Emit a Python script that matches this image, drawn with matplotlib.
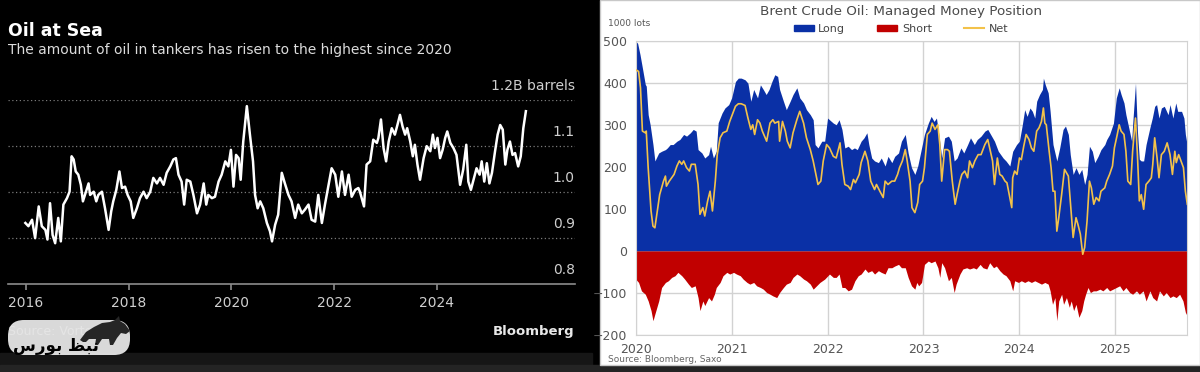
import matplotlib
matplotlib.use('Agg')
import matplotlib.pyplot as plt
from matplotlib.patches import Rectangle, FancyBboxPatch, Polygon, Patch
from matplotlib.lines import Line2D

# ---- left chart: oil in tankers (billion barrels) ----
oil_years = [
    2015.99, 2016.05, 2016.12, 2016.18, 2016.25, 2016.31, 2016.38, 2016.42, 2016.47, 2016.52,
    2016.57, 2016.63, 2016.68, 2016.73, 2016.80, 2016.85, 2016.89, 2016.93, 2016.97, 2017.02,
    2017.07, 2017.11, 2017.15, 2017.22, 2017.25, 2017.32, 2017.37, 2017.41, 2017.48, 2017.54,
    2017.61, 2017.66, 2017.70, 2017.76, 2017.82, 2017.87, 2017.93, 2017.98, 2018.04, 2018.09,
    2018.16, 2018.22, 2018.29, 2018.35, 2018.42, 2018.48, 2018.55, 2018.61, 2018.68, 2018.74,
    2018.81, 2018.87, 2018.92, 2018.97, 2019.03, 2019.08, 2019.13, 2019.20, 2019.26, 2019.33,
    2019.39, 2019.46, 2019.51, 2019.55, 2019.62, 2019.68, 2019.75, 2019.81, 2019.88, 2019.94,
    2019.99, 2020.04, 2020.09, 2020.14, 2020.18, 2020.23, 2020.30, 2020.36, 2020.42, 2020.46,
    2020.51, 2020.56, 2020.62, 2020.69, 2020.75, 2020.79, 2020.85, 2020.91, 2020.98, 2021.04,
    2021.11, 2021.17, 2021.24, 2021.30, 2021.37, 2021.43, 2021.50, 2021.56, 2021.63, 2021.69,
    2021.76, 2021.82, 2021.89, 2021.95, 2022.02, 2022.08, 2022.15, 2022.21, 2022.28, 2022.34,
    2022.41, 2022.47, 2022.50, 2022.58, 2022.63, 2022.70, 2022.76, 2022.83, 2022.86, 2022.91,
    2022.96, 2023.01, 2023.06, 2023.12, 2023.18, 2023.23, 2023.28, 2023.33, 2023.38, 2023.42,
    2023.48, 2023.53, 2023.57, 2023.62, 2023.67, 2023.74, 2023.80, 2023.87, 2023.92, 2023.96,
    2024.01, 2024.06, 2024.11, 2024.16, 2024.20, 2024.26, 2024.32, 2024.38, 2024.45, 2024.51,
    2024.57, 2024.61, 2024.66, 2024.72, 2024.77, 2024.83, 2024.87, 2024.92, 2024.97, 2025.02,
    2025.07, 2025.13, 2025.18, 2025.23, 2025.28, 2025.33, 2025.37, 2025.42, 2025.47, 2025.52,
    2025.58, 2025.63, 2025.68, 2025.73]
oil_barrels = [
    0.932, 0.925, 0.939, 0.899, 0.968, 0.925, 0.917, 0.896, 0.975, 0.906,
    0.888, 0.943, 0.892, 0.972, 0.986, 1.000, 1.077, 1.070, 1.044, 1.037,
    1.015, 0.979, 0.993, 1.018, 0.993, 1.000, 0.979, 0.993, 1.000, 0.964,
    0.917, 0.957, 0.979, 1.004, 1.044, 1.008, 1.011, 0.993, 0.979, 0.943,
    0.964, 0.986, 1.000, 0.986, 1.000, 1.030, 1.018, 1.030, 1.015, 1.041,
    1.055, 1.070, 1.073, 1.037, 1.022, 0.972, 1.026, 1.022, 0.993, 0.953,
    0.972, 1.018, 0.972, 0.993, 0.986, 0.989, 1.022, 1.037, 1.066, 1.055,
    1.091, 1.011, 1.080, 1.073, 1.026, 1.109, 1.186, 1.124, 1.066, 0.993,
    0.964, 0.979, 0.964, 0.932, 0.914, 0.892, 0.928, 0.950, 1.041, 1.018,
    0.993, 0.979, 0.943, 0.972, 0.953, 0.961, 0.972, 0.939, 0.935, 0.993,
    0.932, 0.972, 1.015, 1.051, 1.037, 0.989, 1.044, 0.993, 1.037, 0.989,
    1.004, 1.008, 1.000, 0.968, 1.059, 1.066, 1.113, 1.106, 1.117, 1.157,
    1.095, 1.066, 1.109, 1.138, 1.124, 1.145, 1.167, 1.142, 1.124, 1.138,
    1.109, 1.077, 1.102, 1.059, 1.026, 1.073, 1.099, 1.088, 1.124, 1.095,
    1.117, 1.073, 1.091, 1.117, 1.131, 1.106, 1.095, 1.080, 1.015, 1.048,
    1.102, 1.022, 1.004, 1.030, 1.051, 1.037, 1.066, 1.022, 1.062, 1.018,
    1.041, 1.088, 1.124, 1.145, 1.135, 1.059, 1.091, 1.109, 1.080, 1.084,
    1.055, 1.077, 1.138, 1.175]
oil_ticks = [2016, 2018, 2020, 2022, 2024]
oil_levels = [0.8, 0.9, 1.0, 1.1, 1.2]
oil_level_labels = ['0.8', '0.9', '1.0', '1.1', '1.2B barrels']

# ---- right chart: Brent managed money position (1000 lots) ----
long_years = [
    2020.00, 2020.02, 2020.045, 2020.07, 2020.10, 2020.11, 2020.13, 2020.15, 2020.18, 2020.20,
    2020.24, 2020.27, 2020.31, 2020.33, 2020.36, 2020.39, 2020.43, 2020.46, 2020.50, 2020.53,
    2020.57, 2020.60, 2020.63, 2020.65, 2020.69, 2020.72, 2020.76, 2020.78, 2020.81, 2020.84,
    2020.86, 2020.90, 2020.93, 2020.97, 2021.00, 2021.04, 2021.07, 2021.10, 2021.14, 2021.17,
    2021.20, 2021.23, 2021.27, 2021.30, 2021.33, 2021.36, 2021.39, 2021.42, 2021.45, 2021.48,
    2021.50, 2021.54, 2021.57, 2021.61, 2021.64, 2021.68, 2021.71, 2021.75, 2021.78, 2021.82,
    2021.85, 2021.87, 2021.90, 2021.94, 2021.97, 2022.00, 2022.02, 2022.06, 2022.09, 2022.12,
    2022.15, 2022.18, 2022.215, 2022.25, 2022.28, 2022.31, 2022.35, 2022.38, 2022.41, 2022.43,
    2022.46, 2022.49, 2022.53, 2022.56, 2022.60, 2022.63, 2022.67, 2022.70, 2022.74, 2022.77,
    2022.81, 2022.84, 2022.875, 2022.91, 2022.94, 2022.98, 2023.01, 2023.05, 2023.08, 2023.11,
    2023.135, 2023.16, 2023.19, 2023.22, 2023.26, 2023.29, 2023.32, 2023.35, 2023.39, 2023.42,
    2023.46, 2023.49, 2023.53, 2023.56, 2023.60, 2023.64, 2023.67, 2023.71, 2023.74, 2023.78,
    2023.83, 2023.86, 2023.90, 2023.93, 2023.97, 2024.00, 2024.03, 2024.055, 2024.08, 2024.11,
    2024.135, 2024.16, 2024.18, 2024.21, 2024.24, 2024.25, 2024.27, 2024.30, 2024.32, 2024.35,
    2024.39, 2024.42, 2024.455, 2024.48, 2024.51, 2024.53, 2024.56, 2024.59, 2024.62, 2024.65,
    2024.68, 2024.705, 2024.73, 2024.76, 2024.785, 2024.82, 2024.85, 2024.89, 2024.91, 2024.94,
    2024.98, 2025.01, 2025.04, 2025.06, 2025.09, 2025.11, 2025.14, 2025.17, 2025.18, 2025.21,
    2025.23, 2025.25, 2025.27, 2025.295, 2025.32, 2025.36, 2025.385, 2025.41, 2025.43, 2025.455,
    2025.48, 2025.51, 2025.55, 2025.57, 2025.60, 2025.63, 2025.65, 2025.69, 2025.715, 2025.73,
    2025.75]
long_lots = [
    498, 494, 467, 435, 396, 392, 324, 301, 253, 214,
    233, 237, 241, 245, 253, 253, 261, 265, 277, 273,
    281, 289, 285, 241, 233, 221, 229, 249, 221, 237,
    305, 328, 340, 348, 364, 403, 411, 411, 407, 399,
    356, 384, 364, 395, 384, 372, 384, 403, 419, 415,
    384, 356, 336, 356, 372, 388, 364, 352, 336, 324,
    312, 253, 245, 261, 261, 316, 312, 304, 300, 312,
    289, 245, 249, 241, 245, 241, 261, 269, 281, 253,
    221, 214, 210, 221, 202, 225, 210, 225, 233, 261,
    277, 233, 198, 182, 202, 245, 277, 304, 320, 308,
    316, 277, 221, 269, 273, 261, 214, 221, 245, 233,
    253, 269, 253, 265, 273, 285, 289, 273, 261, 237,
    221, 214, 202, 237, 253, 261, 300, 336, 320, 340,
    332, 316, 356, 372, 384, 411, 395, 376, 332, 253,
    214, 245, 289, 297, 277, 229, 182, 198, 182, 194,
    158, 182, 249, 237, 210, 225, 241, 253, 265, 277,
    304, 364, 388, 372, 352, 324, 293, 261, 300, 399,
    285, 218, 214, 214, 253, 293, 316, 344, 348, 316,
    340, 344, 324, 348, 316, 352, 332, 332, 316, 277,
    250]

net_years = [
    2020.00, 2020.03, 2020.05, 2020.07, 2020.10, 2020.11, 2020.13, 2020.16, 2020.18, 2020.20,
    2020.23, 2020.25, 2020.29, 2020.31, 2020.32, 2020.35, 2020.375, 2020.40, 2020.43, 2020.455,
    2020.48, 2020.50, 2020.53, 2020.56, 2020.58, 2020.62, 2020.65, 2020.67, 2020.70, 2020.72,
    2020.75, 2020.775, 2020.80, 2020.83, 2020.85, 2020.88, 2020.91, 2020.95, 2020.98, 2021.00,
    2021.04, 2021.07, 2021.10, 2021.14, 2021.17, 2021.20, 2021.22, 2021.24, 2021.27, 2021.295,
    2021.32, 2021.365, 2021.40, 2021.43, 2021.45, 2021.49, 2021.50, 2021.53, 2021.56, 2021.58,
    2021.61, 2021.64, 2021.68, 2021.71, 2021.75, 2021.78, 2021.82, 2021.85, 2021.90, 2021.93,
    2021.955, 2021.99, 2022.02, 2022.06, 2022.09, 2022.13, 2022.15, 2022.18, 2022.215, 2022.24,
    2022.27, 2022.29, 2022.33, 2022.35, 2022.39, 2022.42, 2022.45, 2022.49, 2022.51, 2022.545,
    2022.58, 2022.60, 2022.63, 2022.67, 2022.70, 2022.73, 2022.75, 2022.78, 2022.81, 2022.83,
    2022.86, 2022.88, 2022.91, 2022.94, 2022.96, 2022.99, 2023.01, 2023.04, 2023.07, 2023.09,
    2023.12, 2023.15, 2023.17, 2023.19, 2023.22, 2023.25, 2023.27, 2023.30, 2023.33, 2023.35,
    2023.38, 2023.40, 2023.43, 2023.46, 2023.48, 2023.51, 2023.535, 2023.57, 2023.60, 2023.64,
    2023.67, 2023.69, 2023.72, 2023.74, 2023.77, 2023.795, 2023.82, 2023.85, 2023.87, 2023.90,
    2023.92, 2023.93, 2023.95, 2023.975, 2024.00, 2024.02, 2024.045, 2024.07, 2024.10, 2024.125,
    2024.15, 2024.18, 2024.205, 2024.23, 2024.25, 2024.265, 2024.28, 2024.31, 2024.33, 2024.35,
    2024.37, 2024.39, 2024.41, 2024.44, 2024.47, 2024.51, 2024.53, 2024.56, 2024.59, 2024.61,
    2024.635, 2024.66, 2024.68, 2024.705, 2024.73, 2024.75, 2024.775, 2024.80, 2024.83, 2024.85,
    2024.89, 2024.91, 2024.94, 2024.97, 2024.99, 2025.02, 2025.04, 2025.06, 2025.09, 2025.11,
    2025.13, 2025.16, 2025.18, 2025.21, 2025.23, 2025.25, 2025.27, 2025.295, 2025.32, 2025.35,
    2025.375, 2025.39, 2025.41, 2025.435, 2025.455, 2025.48, 2025.51, 2025.54, 2025.57, 2025.595,
    2025.62, 2025.635, 2025.66, 2025.69, 2025.71, 2025.73, 2025.75]
net_lots = [
    431, 427, 388, 285, 281, 285, 198, 95, 59, 55,
    103, 134, 166, 178, 154, 166, 174, 182, 202, 214,
    206, 214, 198, 190, 206, 206, 158, 87, 103, 83,
    119, 142, 95, 166, 229, 269, 281, 285, 308, 320,
    344, 350, 350, 346, 316, 289, 300, 277, 312, 304,
    285, 261, 304, 312, 304, 308, 261, 308, 285, 261,
    245, 281, 312, 332, 304, 269, 241, 214, 158, 166,
    214, 253, 245, 225, 221, 257, 206, 158, 154, 146,
    170, 162, 182, 210, 237, 214, 166, 146, 158, 142,
    127, 166, 158, 166, 166, 182, 198, 214, 241, 214,
    166, 103, 91, 115, 158, 166, 198, 277, 285, 304,
    289, 300, 253, 166, 241, 241, 237, 166, 111, 134,
    166, 182, 190, 174, 214, 198, 214, 229, 229, 253,
    265, 245, 214, 158, 221, 182, 178, 166, 162, 127,
    103, 174, 190, 182, 221, 217, 249, 277, 265, 245,
    237, 285, 293, 308, 340, 304, 300, 237, 198, 142,
    142, 47, 79, 134, 194, 178, 119, 32, 79, 63,
    40, -8, 8, 71, 166, 150, 111, 127, 119, 142,
    150, 166, 182, 202, 245, 277, 300, 285, 277, 237,
    166, 158, 237, 316, 229, 119, 134, 99, 158, 166,
    174, 206, 269, 221, 174, 229, 237, 257, 229, 182,
    237, 210, 229, 210, 198, 142, 111]

short_years = [
    2020.00, 2020.03, 2020.06, 2020.10, 2020.13, 2020.16, 2020.18, 2020.20, 2020.24, 2020.27,
    2020.31, 2020.34, 2020.375, 2020.41, 2020.44, 2020.48, 2020.51, 2020.55, 2020.58, 2020.62,
    2020.65, 2020.67, 2020.70, 2020.72, 2020.76, 2020.79, 2020.82, 2020.84, 2020.88, 2020.91,
    2020.95, 2020.98, 2021.02, 2021.05, 2021.09, 2021.12, 2021.16, 2021.19, 2021.23, 2021.26,
    2021.30, 2021.33, 2021.365, 2021.40, 2021.43, 2021.47, 2021.50, 2021.54, 2021.57, 2021.61,
    2021.64, 2021.68, 2021.71, 2021.75, 2021.78, 2021.82, 2021.85, 2021.92, 2021.97, 2022.02,
    2022.06, 2022.09, 2022.12, 2022.15, 2022.18, 2022.215, 2022.25, 2022.285, 2022.32, 2022.35,
    2022.39, 2022.42, 2022.46, 2022.49, 2022.53, 2022.56, 2022.60, 2022.63, 2022.67, 2022.70,
    2022.74, 2022.77, 2022.81, 2022.84, 2022.875, 2022.91, 2022.93, 2022.95, 2022.98, 2023.01,
    2023.05, 2023.08, 2023.12, 2023.15, 2023.17, 2023.19, 2023.22, 2023.26, 2023.29, 2023.32,
    2023.34, 2023.38, 2023.41, 2023.45, 2023.48, 2023.52, 2023.55, 2023.59, 2023.62, 2023.66,
    2023.69, 2023.73, 2023.76, 2023.795, 2023.83, 2023.86, 2023.90, 2023.93, 2023.95, 2023.99,
    2024.02, 2024.055, 2024.09, 2024.125, 2024.16, 2024.195, 2024.23, 2024.265, 2024.30, 2024.32,
    2024.345, 2024.37, 2024.39, 2024.41, 2024.44, 2024.46, 2024.49, 2024.52, 2024.54, 2024.565,
    2024.59, 2024.62, 2024.65, 2024.67, 2024.69, 2024.715, 2024.74, 2024.77, 2024.80, 2024.84,
    2024.87, 2024.91, 2024.94, 2024.975, 2025.01, 2025.045, 2025.08, 2025.11, 2025.15, 2025.18,
    2025.22, 2025.25, 2025.29, 2025.32, 2025.36, 2025.39, 2025.43, 2025.46, 2025.50, 2025.53,
    2025.57, 2025.60, 2025.635, 2025.67, 2025.705, 2025.73, 2025.75]
short_lots = [
    -67, -75, -95, -103, -119, -142, -166, -150, -119, -87,
    -75, -71, -63, -59, -51, -59, -67, -79, -87, -83,
    -111, -142, -119, -130, -111, -119, -103, -87, -75, -59,
    -51, -55, -51, -55, -59, -67, -75, -79, -75, -83,
    -87, -91, -99, -103, -107, -111, -99, -87, -79, -75,
    -63, -55, -59, -67, -71, -79, -91, -75, -67, -55,
    -63, -63, -55, -87, -87, -95, -91, -71, -59, -55,
    -43, -51, -47, -55, -47, -51, -55, -40, -40, -36,
    -32, -40, -40, -63, -83, -91, -75, -83, -75, -32,
    -24, -28, -24, -40, -63, -28, -40, -71, -63, -99,
    -79, -55, -43, -40, -43, -40, -43, -32, -40, -43,
    -28, -40, -36, -47, -55, -59, -71, -95, -71, -75,
    -71, -75, -71, -75, -71, -75, -79, -75, -79, -95,
    -127, -111, -166, -119, -103, -127, -111, -134, -119, -142,
    -127, -158, -142, -119, -103, -87, -99, -95, -95, -91,
    -95, -87, -95, -91, -87, -83, -95, -87, -99, -103,
    -95, -103, -95, -119, -95, -111, -119, -95, -107, -99,
    -111, -107, -111, -103, -119, -146, -155]
pos_ticks = [2020, 2021, 2022, 2023, 2024, 2025]
pos_levels = [-200, -100, 0, 100, 200, 300, 400, 500]

BLUE = '#0a30a6'
RED = '#c10000'
GOLD = '#f3c24a'

W, H = 1200, 372


def rect(x0, y0, x1, y1):
    # pixel box (top-left origin) -> figure fraction
    return [x0 / W, 1 - y1 / H, (x1 - x0) / W, (y1 - y0) / H]


def fx(x):
    return x / W


def fy(y):
    return 1 - y / H


fig = plt.figure(figsize=(12, 3.72), dpi=100, facecolor='black')

# panel backgrounds
fig.add_artist(Rectangle((0, fy(365)), fx(592), fy(353) - fy(365),
                         transform=fig.transFigure, color='#161616', zorder=-5))
fig.add_artist(Rectangle((0, 0), 1, fy(365), transform=fig.transFigure,
                         color='#242424', zorder=-5))
fig.add_artist(Rectangle((fx(600), fy(365)), fx(600), 1 - fy(365),
                         transform=fig.transFigure, facecolor='white',
                         edgecolor='#c8c8c8', lw=1, zorder=-4))

# ---------------- left: Oil at Sea ----------------
ax = fig.add_axes(rect(8.4, 99.7, 574.7, 283.7))
ax.set_facecolor('none')
ax.plot(oil_years, oil_barrels, color='white', lw=1.8, solid_joinstyle='round',
        clip_on=False, zorder=3)
ax.set_xlim(2015.66, 2026.68)
ax.set_ylim(0.8, 1.2)
for v in oil_levels[1:]:
    ax.axhline(v, color='#7a7a7a', lw=0.9, ls=(0, (1, 2)), zorder=1)
for v, lab in zip(oil_levels, oil_level_labels):
    ax.annotate(lab, (1, v), xycoords=ax.get_yaxis_transform(),
                xytext=(0, 10), textcoords='offset points', ha='right', va='center',
                color='#cfcfcf', fontsize=10)
for s in ['top', 'right', 'left']:
    ax.spines[s].set_visible(False)
ax.spines['bottom'].set_color('#8c8c8c')
ax.spines['bottom'].set_linewidth(1.2)
ax.set_yticks([])
ax.set_xticks(oil_ticks)
ax.set_xticklabels([str(t) for t in oil_ticks])
ax.tick_params(axis='x', colors='#8c8c8c', labelcolor='#cfcfcf', labelsize=10,
               length=4, width=1.2, pad=5)

fig.text(fx(8), fy(31), 'Oil at Sea', color='white', fontsize=12.5,
         fontweight='bold', va='center')
fig.text(fx(8), fy(50), 'The amount of oil in tankers has risen to the highest since 2020',
         color='#dcdcdc', fontsize=10, va='center')
fig.text(fx(574), fy(331), 'Bloomberg', color='#e8e8e8', fontsize=9.5,
         fontweight='bold', ha='right', va='center')

# ---------------- right: Brent managed money ----------------
ax2 = fig.add_axes(rect(635.7, 40.7, 1187.3, 335))
ax2.set_facecolor('white')
ax2.fill_between(long_years, 0, long_lots, color=BLUE, lw=0, zorder=2)
ax2.fill_between(short_years, short_lots, 0, color=RED, lw=0, zorder=2)
ax2.plot(net_years, net_lots, color=GOLD, lw=1.2, zorder=3)
ax2.set_xlim(2020, 2025.75)
ax2.set_ylim(-200, 500)
ax2.set_xticks(pos_ticks)
ax2.set_yticks(pos_levels)
ax2.set_axisbelow(True)
ax2.grid(color='#d2d2d2', lw=1)
for s in ax2.spines.values():
    s.set_color('#d2d2d2')
ax2.tick_params(length=0, colors='#555555', labelsize=9)
ax2.tick_params(axis='y', pad=6)
ax2.tick_params(axis='x', pad=6)

fig.text(fx(901), fy(12), 'Brent Crude Oil: Managed Money Position', color='#4a4a4a',
         fontsize=9.7, ha='center', va='center')
fig.text(fx(608), fy(24), '1000 lots', color='#555555', fontsize=6.5, va='center')
fig.text(fx(608), fy(359), 'Source: Bloomberg, Saxo', color='#666666', fontsize=6.5,
         va='center')
handles = [Patch(color=BLUE, label='Long'), Patch(color=RED, label='Short'),
           Line2D([], [], color=GOLD, lw=1.5, label='Net')]
fig.legend(handles=handles, ncol=3, loc='center', bbox_to_anchor=(fx(901), fy(29)),
           frameon=False, fontsize=8, labelcolor='#444444', handlelength=1.8,
           handleheight=0.55, handletextpad=0.4, columnspacing=2.9)

# ---------------- watermark over the source line ----------------
wax = fig.add_axes(rect(0, 300, 160, 372))
wax.set_xlim(0, 160)
wax.set_ylim(372, 300)
wax.axis('off')
wax.text(8, 331, 'Source: Vortexa', color='#707070', fontsize=9, va='center', zorder=1)
wax.add_patch(FancyBboxPatch((8, 320), 122, 35, boxstyle='round,pad=0,rounding_size=16',
                             facecolor='#f2f2f2', edgecolor='none', alpha=0.9, zorder=2))
bull = [(80, 340), (86, 332), (94, 327), (102, 323), (110, 322), (115, 320), (119, 316),
        (120, 321), (125, 324), (130, 331), (126, 334), (121, 333), (117, 338), (113, 345),
        (110, 345), (109, 339), (102, 339), (98, 345), (95, 345), (96, 339), (89, 339),
        (86, 342), (83, 342)]
wax.add_patch(Polygon(bull, closed=True, facecolor='#262626', edgecolor='none', zorder=3))
# "نبض بورس" written in presentation forms, visual order
wax.text(56, 346, '\ufeb1\ufead\ufeee\ufe91 \ufec6\ufe92\ufee7', color='black',
         fontsize=12, fontweight='bold', ha='center', va='center', zorder=4,
         family=['DejaVu Sans'])

fig.savefig('out.png', dpi=100, facecolor=fig.get_facecolor())
